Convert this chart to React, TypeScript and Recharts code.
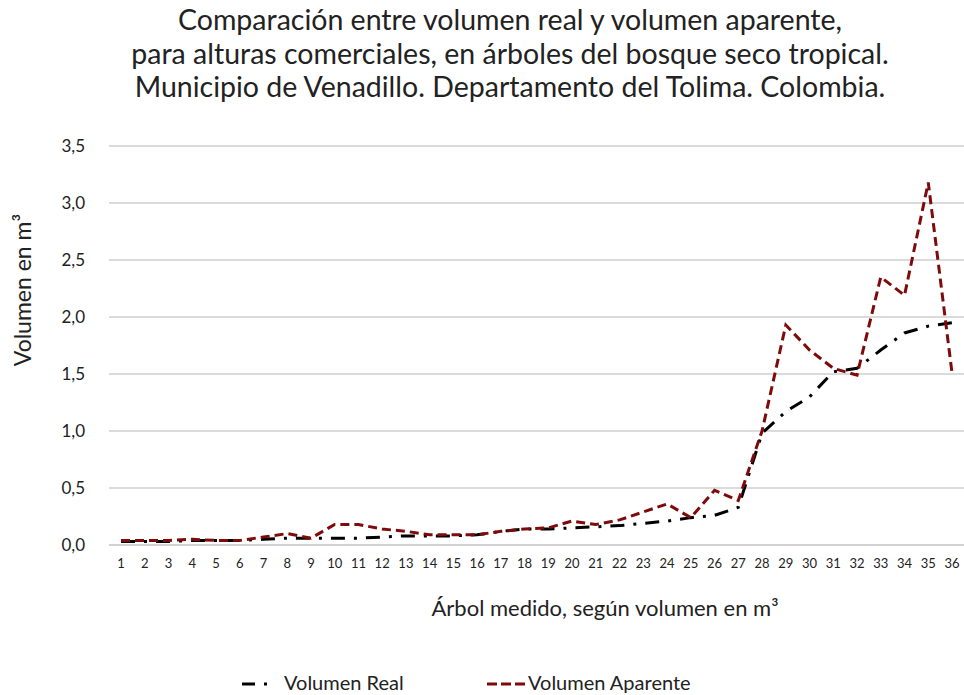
import { CartesianGrid, Line, LineChart, XAxis, YAxis } from "recharts";

const arboles = Array.from({ length: 36 }, (_, i) => String(i + 1));

const volumenReal = [
  0.03, 0.03, 0.03, 0.04, 0.04, 0.04, 0.05, 0.06, 0.06, 0.06, 0.06, 0.07,
  0.08, 0.08, 0.08, 0.09, 0.12, 0.14, 0.14, 0.15, 0.16, 0.17, 0.19, 0.21,
  0.24, 0.26, 0.33, 0.98, 1.17, 1.3, 1.52, 1.55, 1.71, 1.86, 1.92, 1.95,
];

const volumenAparente = [
  0.04, 0.04, 0.04, 0.05, 0.04, 0.04, 0.07, 0.1, 0.06, 0.18, 0.18, 0.14,
  0.12, 0.09, 0.09, 0.09, 0.12, 0.14, 0.15, 0.21, 0.18, 0.22, 0.29, 0.36,
  0.24, 0.48, 0.39, 1.0, 1.93, 1.71, 1.55, 1.49, 2.35, 2.19, 3.18, 1.51,
];

const yTicks = [0, 0.5, 1, 1.5, 2, 2.5, 3, 3.5];

const titulo = [
  "Comparación entre volumen real y volumen aparente,",
  "para alturas comerciales, en árboles del bosque seco tropical.",
  "Municipio de Venadillo. Departamento del Tolima. Colombia.",
];

const data = arboles.map((a, i) => ({
  arbol: a,
  real: volumenReal[i],
  aparente: volumenAparente[i],
}));

const FONT = "Lato, 'Open Sans', sans-serif";
const TEXT = "#222";
const RED = "#7f0a0a";

function Leyenda() {
  return (
    <div
      style={{
        position: "absolute",
        left: 0,
        top: 670,
        width: 964,
        height: 28,
        fontFamily: FONT,
        fontSize: 20,
        color: TEXT,
      }}
    >
      <svg width={30} height={10} style={{ position: "absolute", left: 242, top: 9 }}>
        <line x1={0} y1={5} x2={26} y2={5} stroke="#000" strokeWidth={3} strokeDasharray="13 9 3 20" />
      </svg>
      <span style={{ position: "absolute", left: 284, top: 0 }}>Volumen Real</span>
      <svg width={40} height={10} style={{ position: "absolute", left: 487, top: 9 }}>
        <line x1={0} y1={5} x2={38} y2={5} stroke={RED} strokeWidth={3} strokeDasharray="10 4" />
      </svg>
      <span style={{ position: "absolute", left: 528, top: 0 }}>Volumen Aparente</span>
    </div>
  );
}

export default function App() {
  return (
    <div style={{ position: "absolute", left: 0, top: 0, width: 964, height: 695, background: "#fff" }}>
      <div
        style={{
          position: "absolute",
          left: 0,
          top: 3,
          width: 1020,
          textAlign: "center",
          fontFamily: FONT,
          fontSize: 28.5,
          lineHeight: "33.5px",
          color: TEXT,
        }}
      >
        {titulo.map((t) => (
          <div key={t}>{t}</div>
        ))}
      </div>
      <div
        style={{
          position: "absolute",
          left: 0,
          top: 594,
          width: 1210,
          textAlign: "center",
          fontFamily: FONT,
          fontSize: 22,
          color: TEXT,
        }}
      >
        Árbol medido, según volumen en m³
      </div>
      <div
        style={{
          position: "absolute",
          left: 22,
          top: 290,
          transform: "translate(-50%, -50%) rotate(-90deg)",
          whiteSpace: "nowrap",
          fontFamily: FONT,
          fontSize: 23,
          color: TEXT,
        }}
      >
        Volumen en m³
      </div>
      <LineChart
        width={964}
        height={695}
        data={data}
        margin={{ top: 146, right: 0, bottom: 120, left: 0 }}
        style={{ fontFamily: FONT }}
      >
        <CartesianGrid vertical={false} stroke="#cfcfcf" strokeWidth={1.5} />
        <XAxis
          dataKey="arbol"
          axisLine={{ stroke: "#cfcfcf", strokeWidth: 1.5 }}
          tickLine={false}
          interval={0}
          padding={{ left: 12, right: 12 }}
          tick={{ fill: TEXT, fontSize: 13 }}
          tickMargin={8}
          height={30}
        />
        <YAxis
          width={109}
          domain={[0, 3.5]}
          ticks={yTicks}
          axisLine={false}
          tickLine={false}
          tick={{ fill: TEXT, fontSize: 17 }}
          tickMargin={18}
          tickFormatter={(v: number) => v.toFixed(1).replace(".", ",")}
        />
        <Line
          dataKey="real"
          name="Volumen Real"
          stroke="#000"
          strokeWidth={3}
          strokeDasharray="14 9 3 9"
          dot={false}
          isAnimationActive={false}
        />
        <Line
          dataKey="aparente"
          name="Volumen Aparente"
          stroke={RED}
          strokeWidth={3}
          strokeDasharray="9 5"
          dot={false}
          isAnimationActive={false}
        />
      </LineChart>
      <Leyenda />
    </div>
  );
}
